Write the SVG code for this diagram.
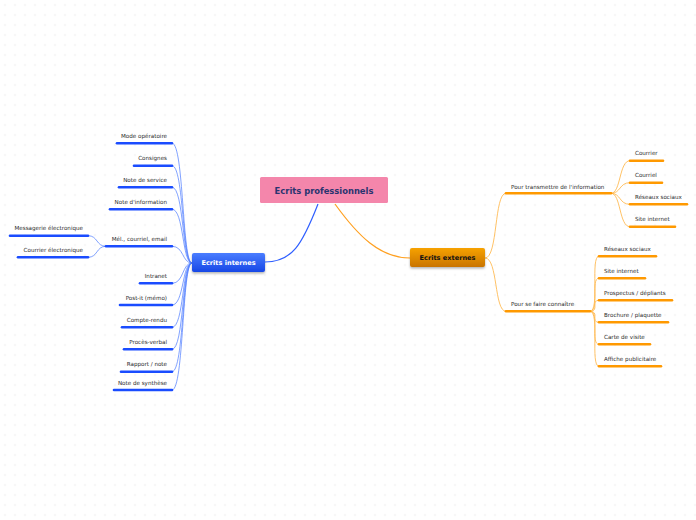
<svg xmlns="http://www.w3.org/2000/svg" width="696" height="520" viewBox="0 0 696 520">
<defs>
<pattern id="bg" width="10" height="10" patternUnits="userSpaceOnUse">
<path d="M5,3.8V6.2M3.8,5H6.2" stroke="#eeeeee" stroke-width="0.6"/>
</pattern>
<linearGradient id="gBlue" x1="0" y1="0" x2="0" y2="1"><stop offset="0" stop-color="#4a7dff"/><stop offset="1" stop-color="#1747e6"/></linearGradient>
<linearGradient id="gOrange" x1="0" y1="0" x2="0" y2="1"><stop offset="0" stop-color="#f7a200"/><stop offset="1" stop-color="#c97400"/></linearGradient>
<filter id="sh" x="-10%" y="-20%" width="120%" height="160%"><feDropShadow dx="0" dy="1.5" stdDeviation="1" flood-color="#000" flood-opacity="0.3"/></filter>
</defs>
<style>
text{font-family:"DejaVu Sans","Liberation Sans",sans-serif;}
.t{font-size:5.6px;fill:#2a2a2a;}
.l{text-anchor:end;}
.ub{stroke:#1a4cff;stroke-width:2.6;stroke-linecap:round;fill:none;}
.uo{stroke:#ff9900;stroke-width:2.6;stroke-linecap:round;fill:none;}
.cb{stroke:#4f7dff;stroke-width:0.9;fill:none;opacity:0.8;}
.co{stroke:#ffbb55;stroke-width:0.9;fill:none;}
</style>
<rect width="696" height="520" fill="#ffffff"/>
<rect width="696" height="520" fill="url(#bg)"/>

<g id="connectors">
<path d="M318,204 C302,245 292,262 265,262" stroke="#2f5fff" stroke-width="1.2" fill="none"/>
<path d="M335,204 C358,236 380,258 410,258" stroke="#ffa020" stroke-width="1.2" fill="none"/>
<path class="cb" d="M192,263 C182,263 184,143.3 172,143.3"/>
<path class="cb" d="M192,263 C182,263 184,165.7 172,165.7"/>
<path class="cb" d="M192,263 C182,263 184,187.3 172,187.3"/>
<path class="cb" d="M192,263 C182,263 184,209.3 172,209.3"/>
<path class="cb" d="M192,263 C182,263 184,246.3 172,246.3"/>
<path class="cb" d="M192,263 C182,263 184,283.3 172,283.3"/>
<path class="cb" d="M192,263 C182,263 184,305 172,305"/>
<path class="cb" d="M192,263 C182,263 184,327.3 172,327.3"/>
<path class="cb" d="M192,263 C182,263 184,349.3 172,349.3"/>
<path class="cb" d="M192,263 C182,263 184,371.7 172,371.7"/>
<path class="cb" d="M192,263 C182,263 184,390 172,390"/>
<path class="cb" d="M106,246.3 C96,246.3 98,235.7 88,235.7"/>
<path class="cb" d="M106,246.3 C96,246.3 98,257.3 88,257.3"/>
<path class="co" d="M485,258 C498,258 494,193.3 506,193.3"/>
<path class="co" d="M485,258 C498,258 494,311.3 506,311.3"/>
<path class="co" d="M611,193.3 C621,193.3 619,160.7 630,160.7"/>
<path class="co" d="M611,193.3 C621,193.3 619,182.7 630,182.7"/>
<path class="co" d="M611,193.3 C621,193.3 619,204.3 630,204.3"/>
<path class="co" d="M611,193.3 C621,193.3 619,226.7 630,226.7"/>
<path class="co" d="M590,311.3 C600,311.3 590,256.3 599,256.3"/>
<path class="co" d="M590,311.3 C600,311.3 590,278.3 599,278.3"/>
<path class="co" d="M590,311.3 C600,311.3 590,300.3 599,300.3"/>
<path class="co" d="M590,311.3 C600,311.3 590,322.3 599,322.3"/>
<path class="co" d="M590,311.3 C600,311.3 590,344.3 599,344.3"/>
<path class="co" d="M590,311.3 C600,311.3 590,366.3 599,366.3"/>
</g>

<g id="root">
<rect x="260" y="177" width="128" height="26" rx="1.5" fill="#f486ab"/>
<text x="324" y="193.5" text-anchor="middle" font-size="8.4" font-weight="bold" fill="#2a3470">Ecrits professionnels</text>
</g>

<g id="internes">
<rect x="192" y="253" width="73" height="19" rx="2" fill="url(#gBlue)" filter="url(#sh)"/>
<text x="228.5" y="265" text-anchor="middle" font-size="6.6" font-weight="bold" fill="#ffffff">Ecrits internes</text>
</g>

<g id="externes">
<rect x="410" y="248" width="75" height="19" rx="2" fill="url(#gOrange)" filter="url(#sh)"/>
<text x="447.5" y="260" text-anchor="middle" font-size="6.6" font-weight="bold" fill="#111">Ecrits externes</text>
</g>

<g id="mode-operatoire"><line class="ub" x1="117" y1="143.3" x2="172" y2="143.3"/><text class="t l" x="167" y="138">Mode opératoire</text></g>
<g id="consignes"><line class="ub" x1="134" y1="165.7" x2="172" y2="165.7"/><text class="t l" x="167" y="160.2">Consignes</text></g>
<g id="note-service"><line class="ub" x1="119" y1="187.3" x2="172" y2="187.3"/><text class="t l" x="167" y="181.8">Note de service</text></g>
<g id="note-information"><line class="ub" x1="110" y1="209.3" x2="172" y2="209.3"/><text class="t l" x="167" y="203.8">Note d'information</text></g>
<g id="mel"><line class="ub" x1="106" y1="246.3" x2="172" y2="246.3"/><text class="t l" x="167" y="240.8">Mél., courriel, email</text></g>
<g id="messagerie"><line class="ub" x1="10" y1="235.7" x2="88" y2="235.7"/><text class="t l" x="83" y="230.2">Messagerie électronique</text></g>
<g id="courrier-elec"><line class="ub" x1="18" y1="257.3" x2="88" y2="257.3"/><text class="t l" x="83" y="251.8">Courrier électronique</text></g>
<g id="intranet"><line class="ub" x1="140" y1="283.3" x2="172" y2="283.3"/><text class="t l" x="167" y="277.8">Intranet</text></g>
<g id="post-it"><line class="ub" x1="120" y1="305" x2="172" y2="305"/><text class="t l" x="167" y="299.5">Post-it (mémo)</text></g>
<g id="compte-rendu"><line class="ub" x1="122" y1="327.3" x2="172" y2="327.3"/><text class="t l" x="167" y="321.8">Compte-rendu</text></g>
<g id="proces-verbal"><line class="ub" x1="124" y1="349.3" x2="172" y2="349.3"/><text class="t l" x="167" y="343.8">Procès-verbal</text></g>
<g id="rapport"><line class="ub" x1="121" y1="371.7" x2="172" y2="371.7"/><text class="t l" x="167" y="366.2">Rapport / note</text></g>
<g id="synthese"><line class="ub" x1="114" y1="390" x2="172" y2="390"/><text class="t l" x="167" y="384.5">Note de synthèse</text></g>

<g id="transmettre"><line class="uo" x1="506" y1="193.3" x2="611" y2="193.3"/><text class="t" x="511" y="188.5">Pour transmettre de l'information</text></g>
<g id="courrier"><line class="uo" x1="630" y1="160.7" x2="663" y2="160.7"/><text class="t" x="635" y="155.2">Courrier</text></g>
<g id="courriel"><line class="uo" x1="630" y1="182.7" x2="662" y2="182.7"/><text class="t" x="635" y="177.2">Courriel</text></g>
<g id="reseaux1"><line class="uo" x1="630" y1="204.3" x2="687" y2="204.3"/><text class="t" x="635" y="198.8">Réseaux sociaux</text></g>
<g id="site1"><line class="uo" x1="630" y1="226.7" x2="675" y2="226.7"/><text class="t" x="635" y="221.2">Site internet</text></g>

<g id="connaitre"><line class="uo" x1="506" y1="311.3" x2="590" y2="311.3"/><text class="t" x="511" y="305.8">Pour se faire connaître</text></g>
<g id="reseaux2"><line class="uo" x1="599" y1="256.3" x2="656" y2="256.3"/><text class="t" x="604" y="250.8">Réseaux sociaux</text></g>
<g id="site2"><line class="uo" x1="599" y1="278.3" x2="645" y2="278.3"/><text class="t" x="604" y="272.8">Site internet</text></g>
<g id="prospectus"><line class="uo" x1="599" y1="300.3" x2="672" y2="300.3"/><text class="t" x="604" y="294.8">Prospectus / dépliants</text></g>
<g id="brochure"><line class="uo" x1="599" y1="322.3" x2="668" y2="322.3"/><text class="t" x="604" y="316.8">Brochure / plaquette</text></g>
<g id="carte"><line class="uo" x1="599" y1="344.3" x2="650" y2="344.3"/><text class="t" x="604" y="338.8">Carte de visite</text></g>
<g id="affiche"><line class="uo" x1="599" y1="366.3" x2="661" y2="366.3"/><text class="t" x="604" y="360.8">Affiche publicitaire</text></g>
</svg>
